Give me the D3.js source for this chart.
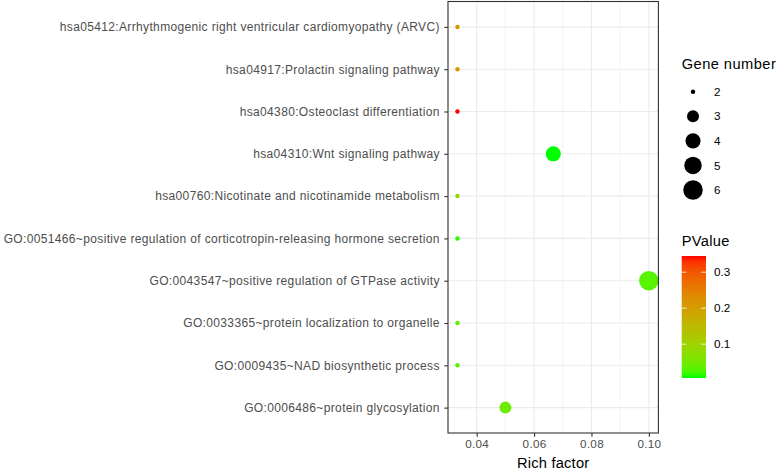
<!DOCTYPE html>
<html>
<head>
<meta charset="utf-8">
<script src="https://cdn.jsdelivr.net/npm/d3@7"></script>
<style>
  html, body { margin: 0; padding: 0; background: #fff; }
  svg { display: block; font-family: "Liberation Sans", Arial, Helvetica, sans-serif; }
</style>
</head>
<body>
<svg id="chart" width="778" height="470"></svg>
<script>
// ---- data (top to bottom order as displayed) ----
const categories = [
  "hsa05412:Arrhythmogenic right ventricular cardiomyopathy (ARVC)",
  "hsa04917:Prolactin signaling pathway",
  "hsa04380:Osteoclast differentiation",
  "hsa04310:Wnt signaling pathway",
  "hsa00760:Nicotinate and nicotinamide metabolism",
  "GO:0051466~positive regulation of corticotropin-releasing hormone secretion",
  "GO:0043547~positive regulation of GTPase activity",
  "GO:0033365~protein localization to organelle",
  "GO:0009435~NAD biosynthetic process",
  "GO:0006486~protein glycosylation"
];
const richFactor = [0.0333, 0.0333, 0.0333, 0.0667, 0.0333, 0.0333, 0.1000, 0.0333, 0.0333, 0.0500];
const geneNumber = [2, 2, 2, 4, 2, 2, 6, 2, 2, 3];
const pValue     = [0.21, 0.21, 0.345, 0.006, 0.09, 0.012, 0.03, 0.035, 0.035, 0.045];
const xTicks = [0.04, 0.06, 0.08, 0.10];
const xMinorTicks = [0.03, 0.05, 0.07, 0.09];
const sizeBreaks = [2, 3, 4, 5, 6];
const colorBreaks = [0.1, 0.2, 0.3];

const svg = d3.select("#chart");
const panel = { left: 448, right: 658.4, top: 1.5, bottom: 433 };

const x = d3.scaleLinear().domain([0.03, 0.10333]).range([panel.left, panel.right]);
const y = d3.scalePoint().domain(categories).range([panel.top, panel.bottom]).padding(0.6);

const gMin = d3.min(geneNumber), gMax = d3.max(geneNumber);
const sizeScale = d3.scaleSqrt().domain([0, gMax - gMin]).range([2.25, 9.75]);
const radius = v => sizeScale(v - gMin);

const pMin = d3.min(pValue), pMax = d3.max(pValue);
const color = d3.scaleLinear().domain([pMin, pMax]).range(["#00ff00", "#ff0000"]).interpolate(d3.interpolateLab);

// panel background
svg.append("rect").attr("x", panel.left).attr("y", panel.top)
  .attr("width", panel.right - panel.left).attr("height", panel.bottom - panel.top)
  .attr("fill", "#fff");

// grid
const grid = svg.append("g");
grid.selectAll("line.minor").data(xMinorTicks).join("line")
  .attr("x1", d => x(d)).attr("x2", d => x(d))
  .attr("y1", panel.top).attr("y2", panel.bottom)
  .attr("stroke", "#ebebeb").attr("stroke-width", 0.6);
grid.selectAll("line.majx").data(xTicks).join("line")
  .attr("x1", d => x(d)).attr("x2", d => x(d))
  .attr("y1", panel.top).attr("y2", panel.bottom)
  .attr("stroke", "#ebebeb").attr("stroke-width", 1.1);
grid.selectAll("line.majy").data(categories).join("line")
  .attr("x1", panel.left).attr("x2", panel.right)
  .attr("y1", d => y(d)).attr("y2", d => y(d))
  .attr("stroke", "#ebebeb").attr("stroke-width", 1.1);

// points
const rows = categories.map((c, i) => ({ c, rf: richFactor[i], g: geneNumber[i], p: pValue[i] }));
svg.append("g").selectAll("circle").data(rows).join("circle")
  .attr("cx", d => x(d.rf)).attr("cy", d => y(d.c))
  .attr("r", d => radius(d.g))
  .attr("fill", d => color(d.p));

// border
svg.append("rect").attr("x", panel.left).attr("y", panel.top)
  .attr("width", panel.right - panel.left).attr("height", panel.bottom - panel.top)
  .attr("fill", "none").attr("stroke", "#333333").attr("stroke-width", 1.1);

// axes
const xAxis = svg.append("g").attr("transform", `translate(0,${panel.bottom})`)
  .call(d3.axisBottom(x).tickValues(xTicks).tickFormat(d3.format(".2f")).tickSize(3.7).tickPadding(3));
xAxis.select(".domain").remove();
xAxis.selectAll(".tick line").attr("stroke", "#333333").attr("stroke-width", 1.1);
xAxis.selectAll(".tick text").attr("fill", "#4d4d4d").attr("font-size", "11.7px")
  .attr("font-family", "Liberation Sans, Arial, sans-serif").attr("letter-spacing", "0.3px");

const yAxis = svg.append("g").attr("transform", `translate(${panel.left},0)`)
  .call(d3.axisLeft(y).tickSize(3.7).tickPadding(4.5));
yAxis.select(".domain").remove();
yAxis.selectAll(".tick line").attr("stroke", "#333333").attr("stroke-width", 1.1);
yAxis.selectAll(".tick text").attr("fill", "#4d4d4d").attr("font-size", "12px")
  .attr("font-family", "Liberation Sans, Arial, sans-serif").attr("letter-spacing", "0.35px");

svg.append("text").attr("x", (panel.left + panel.right) / 2).attr("y", 468)
  .attr("text-anchor", "middle").attr("font-size", "14.67px").attr("fill", "#000")
  .attr("letter-spacing", "0.2px")
  .text("Rich factor");

// size legend
const lx = 681.7;
svg.append("text").attr("x", lx).attr("y", 69.3).attr("font-size", "14.67px").attr("fill", "#000")
  .attr("letter-spacing", "0.45px")
  .text("Gene number");
const keyY = d3.scaleLinear().domain([0, sizeBreaks.length - 1]).range([91.7, 190]);
const sl = svg.append("g");
sl.selectAll("circle").data(sizeBreaks).join("circle")
  .attr("cx", 693).attr("cy", (d, i) => keyY(i)).attr("r", d => radius(d)).attr("fill", "#000");
sl.selectAll("text").data(sizeBreaks).join("text")
  .attr("x", 714).attr("y", (d, i) => keyY(i) + 4.2)
  .attr("font-size", "11.7px").attr("fill", "#000").text(d => d);

// color legend
svg.append("text").attr("x", lx).attr("y", 246).attr("font-size", "14.67px").attr("fill", "#000")
  .attr("letter-spacing", "0.3px")
  .text("PValue");
const barTop = 256, barBottom = 378, barLeft = 681.7, barW = 24.3;
const cbY = d3.scaleLinear().domain([pMin, pMax]).range([barBottom, barTop]);
const defs = svg.append("defs");
const grad = defs.append("linearGradient").attr("id", "pgrad")
  .attr("x1", 0).attr("y1", 1).attr("x2", 0).attr("y2", 0);
d3.range(0, 1.0001, 0.05).forEach(t => {
  grad.append("stop").attr("offset", t).attr("stop-color", color(pMin + t * (pMax - pMin)));
});
svg.append("rect").attr("x", barLeft).attr("y", barTop).attr("width", barW)
  .attr("height", barBottom - barTop).attr("fill", "url(#pgrad)");
const cl = svg.append("g");
colorBreaks.forEach(v => {
  const yy = cbY(v);
  cl.append("line").attr("x1", barLeft).attr("x2", barLeft + barW / 5).attr("y1", yy).attr("y2", yy)
    .attr("stroke", "#fff").attr("stroke-width", 0.8);
  cl.append("line").attr("x1", barLeft + barW * 4 / 5).attr("x2", barLeft + barW).attr("y1", yy).attr("y2", yy)
    .attr("stroke", "#fff").attr("stroke-width", 0.8);
  cl.append("text").attr("x", 714).attr("y", yy + 4.2).attr("font-size", "11.7px").attr("fill", "#000")
    .text(d3.format(".1f")(v));
});
</script>
</body>
</html>
